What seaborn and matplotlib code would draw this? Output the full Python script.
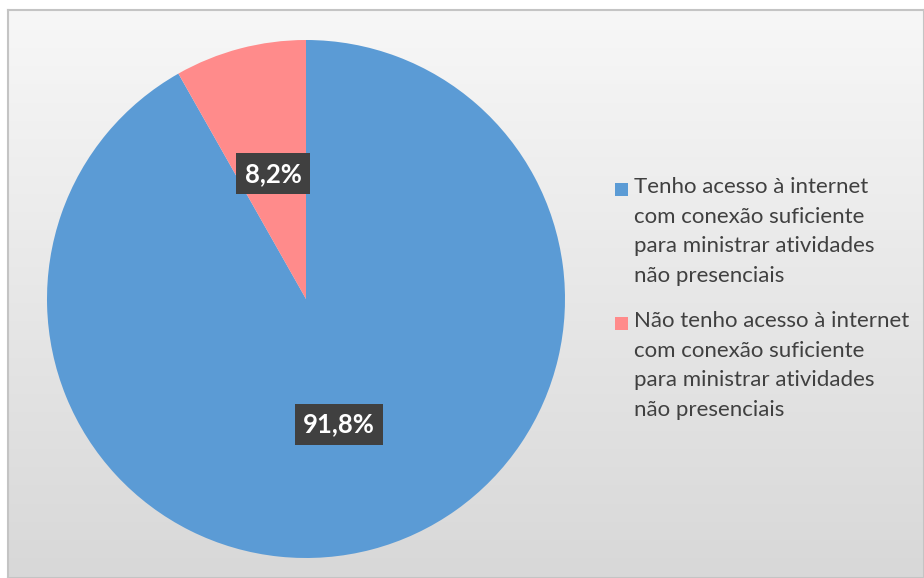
import numpy as np
import seaborn as sns
import matplotlib
matplotlib.use("Agg")
from matplotlib import pyplot as plt
from matplotlib.patches import Rectangle

# dados
categorias = [
    "Tenho acesso à internet\ncom conexão suficiente\npara ministrar atividades\nnão presenciais",
    "Não tenho acesso à internet\ncom conexão suficiente\npara ministrar atividades\nnão presenciais",
]
valores = [91.8, 8.2]
cores = ["#5B9BD5", "#FF8B8B"]

sns.set_style("white")
plt.rcParams["font.family"] = ["Lato", "DejaVu Sans"]

W, H = 924, 578
fig = plt.figure(figsize=(W / 100, H / 100), dpi=100)

# fundo em degradê com borda
bg = fig.add_axes([8 / W, 0, (W - 8) / W, (H - 10) / H])
grad = np.linspace(0, 1, 256)[:, None] * np.ones((1, 256))
bg.imshow(grad, cmap=sns.blend_palette(["#f7f7f7", "#d8d8d8"], as_cmap=True),
          aspect="auto", extent=[0, 1, 0, 1], origin="upper")
bg.set_xticks([])
bg.set_yticks([])
for s in bg.spines.values():
    s.set_color("#c4c4c4")
    s.set_linewidth(1.5)

# pizza
cx, cy, r = 306, 299, 259
ax = fig.add_axes([(cx - r) / W, (H - cy - r) / H, 2 * r / W, 2 * r / H])
ax.set_facecolor("none")
wedges, _, autotexts = ax.pie(
    valores, colors=cores, startangle=90, counterclock=False,
    autopct=lambda p: f"{p:.1f}%".replace(".", ","), pctdistance=0.5,
    wedgeprops=dict(linewidth=0), radius=1,
)
for t in autotexts:
    t.set_color("white")
    t.set_fontsize(18.5)
    t.set_fontweight("bold")
    t.set_bbox(dict(boxstyle="square,pad=0.33", facecolor="#404040", edgecolor="none"))
ax.set_xlim(-1, 1)
ax.set_ylim(-1, 1)
ax.set_aspect("equal")
ax.axis("off")

# legenda
y0 = 177
for i, (cat, cor) in enumerate(zip(categorias, cores)):
    ytop = y0 + i * 134
    fig.patches.append(Rectangle((615 / W, 1 - (ytop + 19) / H), 13 / W, 13 / H,
                                 transform=fig.transFigure, facecolor=cor, edgecolor="none"))
    fig.text(634 / W, 1 - ytop / H, cat, va="top", ha="left", fontsize=16,
             color="#404040", linespacing=1.6)

fig.savefig("out.png", dpi=100)
